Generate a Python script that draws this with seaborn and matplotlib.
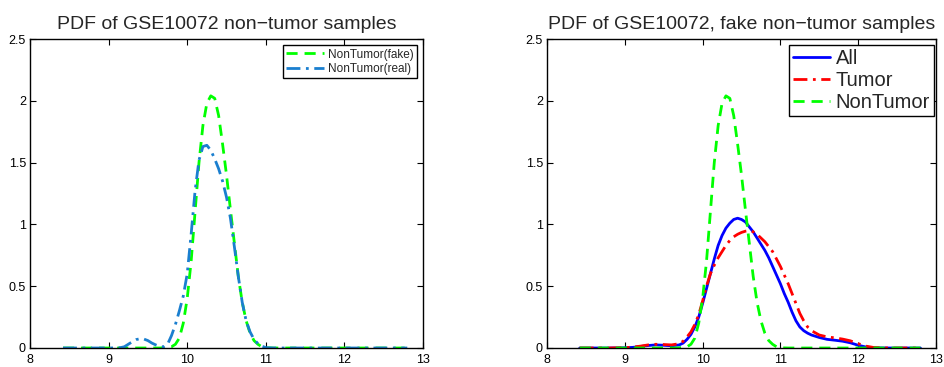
import matplotlib
matplotlib.use("Agg")
import matplotlib.pyplot as plt
import seaborn as sns

# ---------------- data ----------------
# Narrow curves (NonTumor fake / real)
x_nt = [8.42, 8.6, 8.8, 9.0, 9.1, 9.15, 9.2, 9.25, 9.3, 9.35, 9.4, 9.45, 9.5, 9.55,
        9.6, 9.65, 9.7, 9.75, 9.8, 9.85, 9.9, 9.95, 10.0, 10.05, 10.1, 10.15, 10.2,
        10.25, 10.3, 10.35, 10.4, 10.45, 10.5, 10.55, 10.6, 10.65, 10.7, 10.75, 10.8,
        10.85, 10.9, 10.95, 11.0, 11.1, 11.2, 11.4, 11.6, 11.8, 12.0, 12.2, 12.4, 12.6, 12.8]
nontumor_fake = [0, 0, 0, 0, 0, 0, 0, 0, 0, 0, 0, 0, 0, 0,
                 0, 0, 0.002, 0.005, 0.01, 0.03, 0.08, 0.2, 0.4, 0.7, 1.1, 1.5, 1.8,
                 1.98, 2.04, 2.02, 1.88, 1.65, 1.4, 1.12, 0.85, 0.58, 0.37, 0.22, 0.12,
                 0.06, 0.03, 0.01, 0.002, 0, 0, 0, 0, 0, 0, 0, 0, 0, 0]
nontumor_real = [0, 0, 0, 0, 0.001, 0.003, 0.01, 0.03, 0.05, 0.068, 0.075, 0.072, 0.06, 0.04,
                 0.025, 0.012, 0.01, 0.03, 0.1, 0.19, 0.3, 0.42, 0.6, 0.92, 1.27, 1.52, 1.63,
                 1.64, 1.6, 1.53, 1.45, 1.35, 1.22, 1.05, 0.82, 0.58, 0.37, 0.22, 0.13,
                 0.07, 0.035, 0.015, 0.003, 0, 0, 0, 0, 0, 0, 0, 0, 0, 0]

# Broad curves (All / Tumor)
x_all = [8.42, 8.6, 8.8, 9.0, 9.1, 9.2, 9.3, 9.4, 9.5, 9.6, 9.7, 9.75, 9.8, 9.85, 9.9,
         9.95, 10.0, 10.05, 10.1, 10.15, 10.2, 10.25, 10.3, 10.35, 10.4, 10.45, 10.5,
         10.55, 10.6, 10.65, 10.7, 10.75, 10.8, 10.85, 10.9, 10.95, 11.0, 11.05, 11.1,
         11.15, 11.2, 11.25, 11.3, 11.35, 11.4, 11.5, 11.6, 11.7, 11.8, 11.9, 12.0, 12.1,
         12.2, 12.4, 12.6, 12.8]
all_pdf = [0, 0, 0, 0.002, 0.005, 0.012, 0.02, 0.025, 0.022, 0.018, 0.025, 0.04, 0.07, 0.11,
           0.17, 0.25, 0.36, 0.48, 0.6, 0.72, 0.83, 0.91, 0.97, 1.01, 1.04, 1.05, 1.04,
           1.02, 0.98, 0.94, 0.89, 0.84, 0.79, 0.73, 0.66, 0.59, 0.52, 0.44, 0.37,
           0.29, 0.22, 0.17, 0.14, 0.12, 0.105, 0.085, 0.07, 0.063, 0.055, 0.042, 0.022, 0.008,
           0.002, 0, 0, 0]
tumor_pdf = [0, 0, 0, 0.003, 0.007, 0.015, 0.025, 0.03, 0.028, 0.025, 0.035, 0.055, 0.09, 0.13,
             0.19, 0.27, 0.38, 0.5, 0.6, 0.67, 0.73, 0.78, 0.83, 0.87, 0.9, 0.92, 0.935,
             0.945, 0.95, 0.94, 0.92, 0.89, 0.86, 0.82, 0.78, 0.72, 0.66, 0.59, 0.52,
             0.44, 0.36, 0.28, 0.22, 0.17, 0.14, 0.105, 0.09, 0.082, 0.072, 0.058, 0.035, 0.015,
             0.004, 0, 0, 0]

xticks = [8, 9, 10, 11, 12, 13]
yticks = [0, 0.5, 1, 1.5, 2, 2.5]
yticklabels = ["0", "0.5", "1", "1.5", "2", "2.5"]
title_left = "PDF of GSE10072 non\u2212tumor samples"
title_right = "PDF of GSE10072, fake non\u2212tumor samples"

# ---------------- style ----------------
sns.set_style("ticks")
plt.rcParams["font.family"] = ["Liberation Sans", "DejaVu Sans"]

fig = plt.figure(figsize=(9.45, 3.67), dpi=100)
ax1 = fig.add_axes([30 / 945, 1 - 348 / 367, 393 / 945, 309 / 367])
ax2 = fig.add_axes([547 / 945, 1 - 348 / 367, 389 / 945, 309 / 367])

GREEN = "#00ff00"
LBLUE = "#1a7fcf"
BLUE = "#0000ff"
RED = "#ff0000"

dash_ls = (0, (4, 2.5))
dashdot_ls = (0, (5, 2, 1, 2))

sns.lineplot(x=x_nt, y=nontumor_fake, ax=ax1, color=GREEN, lw=2, linestyle=dash_ls,
             label="NonTumor(fake)")
sns.lineplot(x=x_nt, y=nontumor_real, ax=ax1, color=LBLUE, lw=2, linestyle=dashdot_ls,
             label="NonTumor(real)")

sns.lineplot(x=x_all, y=all_pdf, ax=ax2, color=BLUE, lw=2, linestyle="-", label="All")
sns.lineplot(x=x_all, y=tumor_pdf, ax=ax2, color=RED, lw=2, linestyle=dashdot_ls,
             label="Tumor")
sns.lineplot(x=x_nt, y=nontumor_fake, ax=ax2, color=GREEN, lw=2, linestyle=dash_ls,
             label="NonTumor")

for ax, title in [(ax1, title_left), (ax2, title_right)]:
    ax.set_xlim(8, 13)
    ax.set_ylim(0, 2.5)
    ax.set_xticks(xticks)
    ax.set_xticklabels([str(t) for t in xticks])
    ax.set_yticks(yticks)
    ax.set_yticklabels(yticklabels)
    ax.set_xlabel("")
    ax.set_ylabel("")
    ax.tick_params(direction="in", length=4, width=0.8, labelsize=9,
                   top=True, right=True, colors="black")
    ax.tick_params(axis="x", pad=4)
    ax.tick_params(axis="y", pad=3)
    for s in ax.spines.values():
        s.set_visible(True)
        s.set_color("black")
        s.set_linewidth(1.0)
    ax.set_title(title, fontsize=14, pad=7)

leg1 = ax1.legend(loc="upper right", fontsize=8.5, frameon=True, fancybox=False,
                  edgecolor="black", framealpha=1, borderpad=0.3, labelspacing=0.2,
                  handlelength=3.2, handletextpad=0.3, borderaxespad=0,
                  bbox_to_anchor=(417 / 945, 1 - 45 / 367), bbox_transform=fig.transFigure)
leg1.get_frame().set_linewidth(1.0)

leg2 = ax2.legend(loc="upper right", fontsize=14.5, frameon=True, fancybox=False,
                  edgecolor="black", framealpha=1, borderpad=0.2, labelspacing=0.15,
                  handlelength=1.8, handletextpad=0.3, borderaxespad=0,
                  bbox_to_anchor=(934 / 945, 1 - 45 / 367), bbox_transform=fig.transFigure)
leg2.get_frame().set_linewidth(1.0)

fig.savefig("out.png", dpi=100)
